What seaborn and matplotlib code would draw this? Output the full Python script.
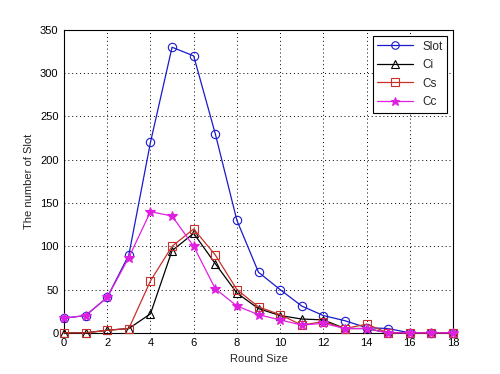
import matplotlib
matplotlib.use("Agg")
import matplotlib.pyplot as plt
import seaborn as sns
import numpy as np

round_size = list(range(0, 19))
slot = [17, 20, 41, 90, 220, 330, 320, 230, 130, 70, 50, 31, 20, 14, 6, 5, 0, 0, 0]
ci   = [0, 0, 3, 5, 22, 95, 115, 80, 46, 28, 20, 16, 15, 5, 5, 0, 0, 0, 0]
cs   = [0, 0, 3, 5, 60, 100, 120, 90, 50, 30, 21, 9, 13, 5, 10, 0, 0, 0, 0]
cc   = [17, 20, 41, 87, 140, 135, 100, 51, 31, 21, 15, 9, 11, 5, 5, 0, 0, 0, 0]

series = [
    ("Slot", slot, "#1a1acc", "o", "none", 6),
    ("Ci", ci, "black", "^", "none", 6),
    ("Cs", cs, "#c8302a", "s", "none", 6),
    ("Cc", cc, "#e020e0", "*", "#e020e0", 7),
]

sns.set_style("white")
plt.rcParams["font.family"] = ["Liberation Sans", "DejaVu Sans"]

fig = plt.figure(figsize=(5.0, 3.74), dpi=100)
ax = fig.add_axes([0.128, 0.110, 0.778, 0.810])

for name, vals, col, mk, mfc, ms in series:
    sns.lineplot(x=round_size, y=vals, ax=ax, color=col, linewidth=0.9,
                 marker=mk, markersize=ms,
                 markerfacecolor=mfc, markeredgecolor=col, markeredgewidth=0.8,
                 label=name, clip_on=False, zorder=3)

ax.set_xlim(0, 18)
ax.set_ylim(0, 350)
ax.set_xticks(range(0, 19, 2))
ax.set_yticks(range(0, 351, 50))
ax.tick_params(direction="in", length=3, labelsize=8, colors="black", pad=4)
ax.grid(True, linestyle=(0, (1, 3)), color="black", linewidth=0.7)
for s in ax.spines.values():
    s.set_color("black")
    s.set_linewidth(0.8)
ax.set_xlabel("Round Size", fontsize=8)
ax.set_ylabel("The number of Slot", fontsize=8)

leg = ax.legend(loc="upper right", fontsize=8.5, frameon=True, fancybox=False,
                edgecolor="black", framealpha=1, borderaxespad=0.5,
                handlelength=3.0, labelspacing=0.55, markerscale=0.9)
leg.get_frame().set_linewidth(0.8)

fig.savefig("out.png", dpi=100, facecolor="white")
